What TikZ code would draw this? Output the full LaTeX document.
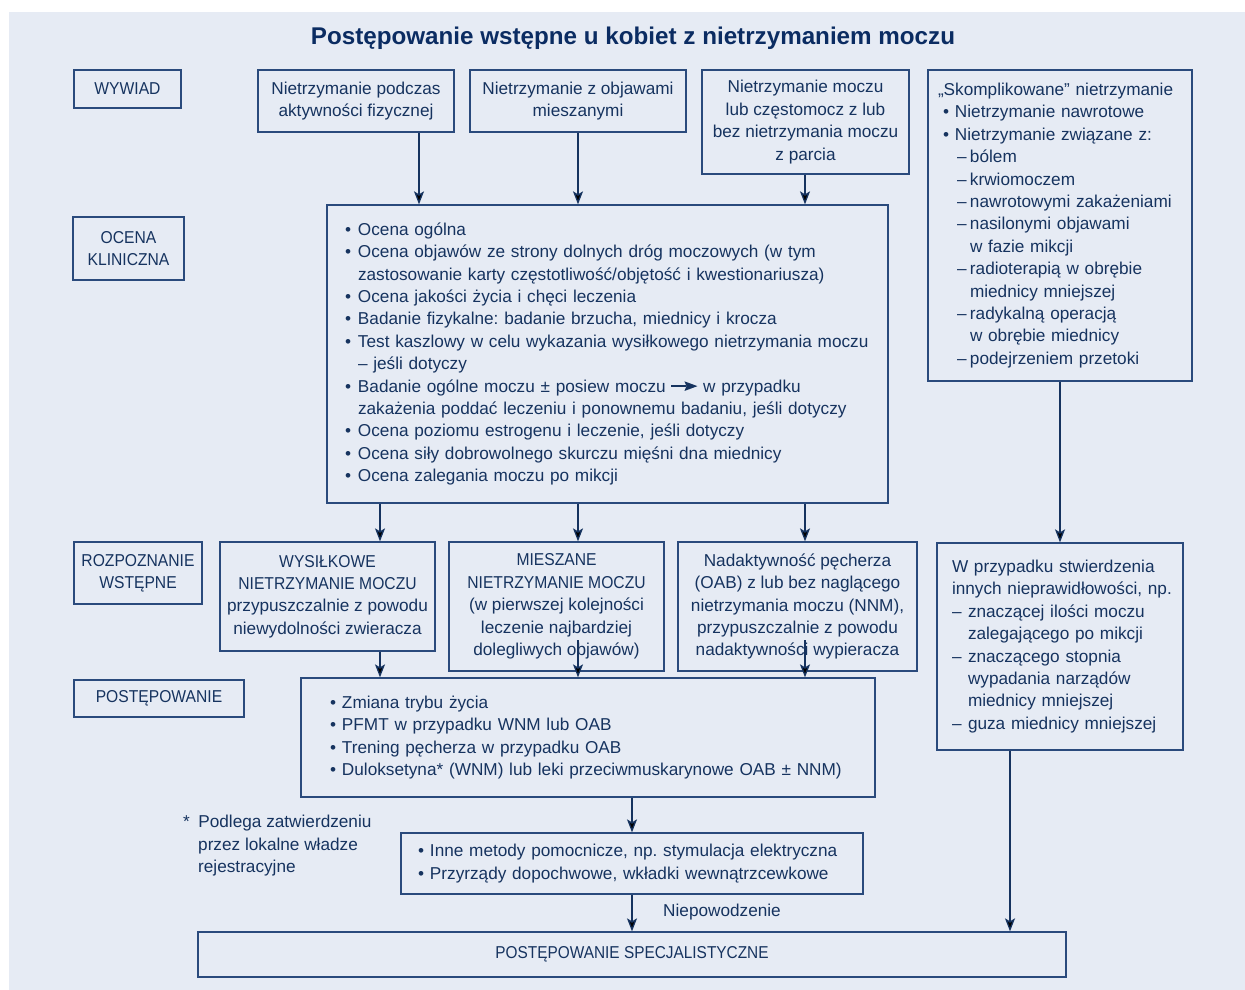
\documentclass[tikz,border=0pt]{standalone}
\usepackage{fontspec}
\setmainfont{Liberation Sans}
\newfontfamily\capsf[FakeStretch=0.91]{Liberation Sans}
\newfontfamily\capsff[FakeStretch=0.895]{Liberation Sans}
\usetikzlibrary{arrows.meta}
\definecolor{bg}{HTML}{E6EBF4}
\definecolor{ink}{HTML}{16335F}
\definecolor{edge}{HTML}{2A4A7C}
\definecolor{titlec}{HTML}{0B2C62}
\newcommand\mf{\fontsize{17.2}{22.4}\selectfont\frenchspacing}
\newcommand\tf{\fontsize{24.2}{28}\selectfont\bfseries}
\newcommand\bl[1][13pt]{\makebox[#1][l]{\textbullet}}
\newcommand\dsh[1][13pt]{\makebox[#1][l]{–}}
\newcommand\myarrow{\tikz[baseline=0pt,x=1pt,y=1pt]{\fill[ink] (0,5.0) rectangle (15,7.0); \fill[ink] (13,1.2) -- (26,6.0) -- (13,10.8) -- (15,6) -- cycle;}}
\tikzset{
  box/.style={draw=edge, line width=1.3pt, text=ink, inner sep=0pt, font=\mf},
  lbl/.style={box, align=center},
  lst/.style={box, align=left, inner ysep=0pt},
  arr/.style={draw=ink, line width=1.3pt, -{Stealth[length=13pt,width=10pt,inset=3pt]}},
  plain/.style={text=ink, font=\mf, inner sep=0pt},
}
\begin{document}
\begin{tikzpicture}[x=1pt,y=-1pt]
\useasboundingbox (0,0) rectangle (1245,990);
\fill[bg] (9,12) rectangle (1245,990);

\node[font=\tf, text=titlec] (title) at (633,38) {Postępowanie wstępne u kobiet z nietrzymaniem moczu};

% left labels
\node[lbl, minimum width=107pt, minimum height=38pt] (wywiad) at (127.5,89) {\capsf WYWIAD};
\node[lbl, minimum width=111pt, minimum height=63pt] (ocenal) at (128.5,248.5) {\capsf OCENA\\\capsf KLINICZNA};
\node[lbl, minimum width=128pt, minimum height=62pt] (rozp) at (138,573) {\capsf ROZPOZNANIE\\\capsf WSTĘPNE};
\node[lbl, minimum width=170pt, minimum height=37pt] (postl) at (159,698.5) {\capsf POSTĘPOWANIE};

% top row
\node[lbl, minimum width=196pt, minimum height=62pt] (b1) at (356,101) {Nietrzymanie podczas\\aktywności fizycznej};
\node[lbl, minimum width=216pt, minimum height=62pt] (b2) at (578,101) {Nietrzymanie z objawami\\mieszanymi};
\node[lbl, minimum width=207pt, minimum height=104pt] (b3) at (805.5,122) {Nietrzymanie moczu\\lub częstomocz z lub\\bez nietrzymania moczu\\z parcia};
\node[lst, inner xsep=10pt, text width=244pt, minimum height=311pt] (b4) at (1060,225.5) {%
„Skomplikowane” nietrzymanie\\
\hspace*{5pt}\bl[12pt]Nietrzymanie nawrotowe\\
\hspace*{5pt}\bl[12pt]Nietrzymanie związane z:\\
\hspace*{19pt}\dsh bólem\\
\hspace*{19pt}\dsh krwiomoczem\\
\hspace*{19pt}\dsh nawrotowymi zakażeniami\\
\hspace*{19pt}\dsh nasilonymi objawami\\
\hspace*{32pt}w fazie mikcji\\
\hspace*{19pt}\dsh radioterapią w obrębie\\
\hspace*{32pt}miednicy mniejszej\\
\hspace*{19pt}\dsh radykalną operacją\\
\hspace*{32pt}w obrębie miednicy\\
\hspace*{19pt}\dsh podejrzeniem przetoki};

% clinical assessment
\node[lst, inner xsep=18pt, text width=525pt, minimum height=298pt] (ocena) at (607.5,354) {%
\bl Ocena ogólna\\
\bl Ocena objawów ze strony dolnych dróg moczowych (w tym\\
\hspace*{13pt}\mbox{zastosowanie karty częstotliwość/objętość i kwestionariusza)}\\
\bl Ocena jakości życia i chęci leczenia\\
\bl Badanie fizykalne: badanie brzucha, miednicy i krocza\\
\bl \mbox{Test kaszlowy w celu wykazania wysiłkowego nietrzymania moczu}\\
\hspace*{13pt}– jeśli dotyczy\\
\bl Badanie ogólne moczu ± posiew moczu \myarrow\ w przypadku\\
\hspace*{13pt}\mbox{zakażenia poddać leczeniu i ponownemu badaniu, jeśli dotyczy}\\
\bl Ocena poziomu estrogenu i leczenie, jeśli dotyczy\\
\bl Ocena siły dobrowolnego skurczu mięśni dna miednicy\\
\bl Ocena zalegania moczu po mikcji};

% diagnosis row
\node[lbl, minimum width=215pt, minimum height=109pt] (wys) at (327.5,596.5) {{\capsf WYSIŁKOWE}\\{\capsf NIETRZYMANIE MOCZU}\\przypuszczalnie z powodu\\niewydolności zwieracza};
\node[lbl, minimum width=215pt, minimum height=129pt] (mies) at (556.5,606.5) {{\capsf MIESZANE}\\{\capsf NIETRZYMANIE MOCZU}\\(w pierwszej kolejności\\leczenie najbardziej\\dolegliwych objawów)};
\node[lbl, minimum width=239pt, minimum height=129pt] (oab) at (797.5,606.5) {Nadaktywność pęcherza\\(OAB) z lub bez naglącego\\nietrzymania moczu (NNM),\\przypuszczalnie z powodu\\nadaktywności wypieracza};
\node[lst, inner xsep=15pt, text width=216pt, minimum height=207pt] (inny) at (1060,646.5) {%
W przypadku stwierdzenia\\
\mbox{innych nieprawidłowości, np.}\\
\dsh[16pt]znaczącej ilości moczu\\
\hspace*{16pt}zalegającego po mikcji\\
\dsh[16pt]znaczącego stopnia\\
\hspace*{16pt}wypadania narządów\\
\hspace*{16pt}miednicy mniejszej\\
\dsh[16pt]guza miednicy mniejszej};

% management
\node[lst, inner xsep=29pt, text width=516pt, minimum height=119pt] (postbox) at (588,737.5) {%
\bl[12pt]Zmiana trybu życia\\
\bl[12pt]PFMT w przypadku WNM lub OAB\\
\bl[12pt]Trening pęcherza w przypadku OAB\\
\bl[12pt]Duloksetyna* (WNM) lub leki przeciwmuskarynowe OAB ± NNM)};

\node[plain, align=left, anchor=north west] (foot) at (183,815) {*\hspace{8.5pt}Podlega zatwierdzeniu\\\hspace*{15pt}przez lokalne władze\\\hspace*{15pt}rejestracyjne};

\node[lst, inner xsep=17pt, text width=428pt, minimum height=61pt] (inne) at (632,863.5) {%
\bl[12pt]Inne metody pomocnicze, np. stymulacja elektryczna\\
\bl[12pt]Przyrządy dopochwowe, wkładki wewnątrzcewkowe};

\node[lbl, minimum width=868pt, minimum height=45pt] (spec) at (632,954.5) {\capsff POSTĘPOWANIE SPECJALISTYCZNE};

\node[plain] (fail) at (722,912) {Niepowodzenie};

% helper x positions
\coordinate (xa) at (419,0);
\coordinate (xb) at (380,0);
\coordinate (xc) at (578,0);
\coordinate (xd) at (805,0);
\coordinate (xe) at (632,0);
\coordinate (xf) at (1010,0);
\coordinate (m1) at (578,640);
\coordinate (m2) at (805,640);

% connectors
\draw[arr] (b1.south -| xa) -- (ocena.north -| xa);
\draw[arr] (b2.south -| xc) -- (ocena.north -| xc);
\draw[arr] (b3.south -| xd) -- (ocena.north -| xd);
\draw[arr] (b4.south) -- (inny.north);
\draw[arr] (ocena.south -| xb) -- (wys.north -| xb);
\draw[arr] (ocena.south -| xc) -- (mies.north -| xc);
\draw[arr] (ocena.south -| xd) -- (oab.north -| xd);
\draw[arr] (wys.south -| xb) -- (postbox.north -| xb);
\draw[arr] (m1) -- (postbox.north -| m1);
\draw[arr] (m2) -- (postbox.north -| m2);
\draw[arr] (postbox.south -| xe) -- (inne.north -| xe);
\draw[arr] (inne.south -| xe) -- (spec.north -| xe);
\draw[arr] (inny.south -| xf) -- (spec.north -| xf);
\end{tikzpicture}
\end{document}
